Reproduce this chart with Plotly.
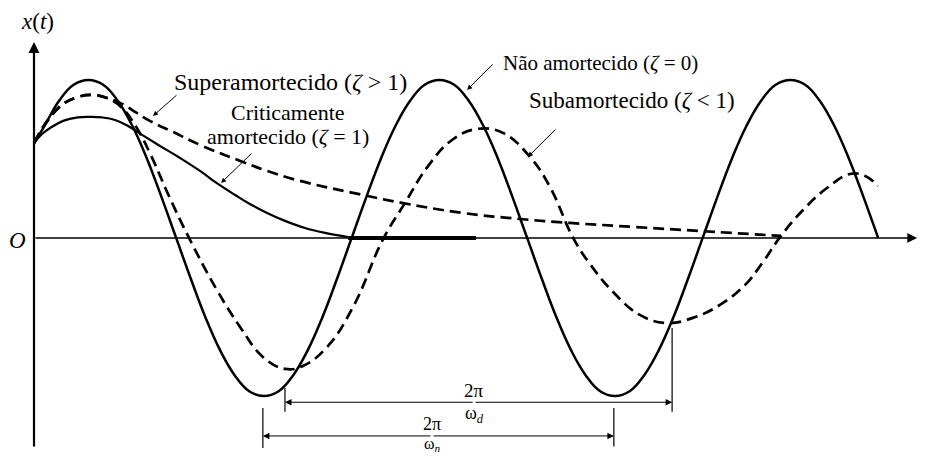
import plotly.graph_objects as go

# Free response of a single-degree-of-freedom system, same initial conditions.
# t: time (undamped period = 10 units), x: displacement (undamped amplitude = 1)

t_undamped = [0, 0.30, 0.72, 1.13, 1.55, 1.97, 2.38, 2.80, 3.22, 3.63, 4.05,
              4.47, 4.88, 5.30, 5.72, 6.13, 6.55, 6.97, 7.38, 7.80, 8.22,
              8.63, 9.05, 9.47, 9.88, 10.30, 10.72, 11.13, 11.55, 11.97, 12.38,
              12.80, 13.22, 13.63, 14.05, 14.47, 14.88, 15.30, 15.72, 16.13, 16.55,
              16.97, 17.38, 17.80, 18.22, 18.63, 19.05, 19.47, 19.88, 20.30, 20.72,
              21.13, 21.55, 21.97, 22.38, 22.80, 23.22, 23.63, 24.05]
x_undamped = [0.60, 0.71, 0.87, 0.97, 1.0, 0.97, 0.87, 0.71, 0.5, 0.26, 0.0,
              -0.26, -0.5, -0.71, -0.87, -0.97, -1.0, -0.97, -0.87, -0.71, -0.5,
              -0.26, 0.0, 0.26, 0.5, 0.71, 0.87, 0.97, 1.0, 0.97, 0.87,
              0.71, 0.5, 0.26, 0.0, -0.26, -0.5, -0.71, -0.87, -0.97, -1.0,
              -0.97, -0.87, -0.71, -0.5, -0.26, 0.0, 0.26, 0.5, 0.71, 0.87,
              0.97, 1.0, 0.97, 0.87, 0.71, 0.5, 0.26, 0.0]

t_under = [0, 0.40, 0.83, 1.25, 1.65, 2.08, 2.51, 2.93, 3.30, 3.87,
           4.44, 5.21, 5.87, 6.52, 7.15, 7.66, 8.35, 9.09, 9.94, 10.57,
           11.23, 11.91, 12.62, 13.36, 14.13, 14.70, 15.36, 15.84, 16.50, 17.26,
           18.03, 18.77, 19.54, 20.26, 20.77, 21.28, 21.91, 22.59, 23.25, 23.68, 24.05]
x_under = [0.60, 0.747, 0.848, 0.892, 0.905, 0.886, 0.823, 0.696, 0.538, 0.253,
           -0.01, -0.329, -0.563, -0.753, -0.829, -0.810, -0.690, -0.437, -0.01, 0.222,
           0.456, 0.620, 0.690, 0.665, 0.513, 0.323, 0.0, -0.165, -0.342, -0.487,
           -0.538, -0.506, -0.424, -0.297, -0.152, 0.013, 0.177, 0.316, 0.405, 0.392, 0.329]

t_over = [0, 0.40, 0.83, 1.25, 1.65, 2.08, 2.51, 2.93, 3.30, 3.96, 4.73,
          5.95, 6.64, 7.58, 9.37, 10.48, 12.22, 13.85, 15.27, 17.07, 18.97, 21.28]
x_over = [0.60, 0.747, 0.848, 0.892, 0.905, 0.886, 0.848, 0.791, 0.741, 0.671, 0.589,
          0.481, 0.424, 0.361, 0.272, 0.222, 0.158, 0.120, 0.095, 0.070, 0.044, 0.013]

t_crit = [0, 0.23, 0.46, 0.83, 1.25, 1.60, 1.94, 2.31, 2.68, 3.08, 3.59,
          4.16, 4.73, 5.24, 5.73, 6.15, 6.64, 7.15, 7.72, 8.29, 8.95]
x_crit = [0.60, 0.658, 0.696, 0.741, 0.763, 0.766, 0.763, 0.747, 0.709, 0.652, 0.582,
          0.506, 0.424, 0.342, 0.272, 0.215, 0.158, 0.108, 0.063, 0.032, 0.006]
t_crit_rest = [8.95, 12.59]
x_crit_rest = [0.0, 0.0]

# periods marked below the axis
wn_start, wn_period = 6.52, 10.0
wd_start, wd_period = 7.15, 11.03

SERIF = "Liberation Serif"
INK = "black"

fig = go.Figure()


def curve(t, x, dash=None, width=2.4, shape="spline"):
    fig.add_trace(go.Scatter(
        x=t, y=x, mode="lines", hoverinfo="skip", showlegend=False,
        line=dict(color=INK, width=width, dash=dash, shape=shape, smoothing=1.2),
    ))


curve(t_over, x_over, dash="11px,6px", width=2.7)
curve(t_crit, x_crit, width=2.2)
curve(t_crit_rest, x_crit_rest, width=4, shape="linear")
curve(t_under, x_under, dash="11px,6px", width=2.7)
curve(t_undamped, x_undamped, width=2.5)

ann = []


def arrow(head, tail, width=1.0, size=1.0, head_style=2):
    ann.append(dict(
        x=head[0], y=head[1], ax=tail[0], ay=tail[1],
        xref="x", yref="y", axref="x", ayref="y",
        text="", showarrow=True, arrowhead=head_style,
        arrowwidth=width, arrowsize=size, arrowcolor=INK,
    ))


def label(x, y, text, size=24, xanchor="left", yanchor="middle"):
    ann.append(dict(
        x=x, y=y, xref="x", yref="y", text=text, showarrow=False,
        xanchor=xanchor, yanchor=yanchor, borderpad=0,
        font=dict(family=SERIF, size=size, color=INK),
    ))


# coordinate axes
arrow((25.16, 0), (0, 0), width=1.4, size=1.4)
arrow((0, 1.24), (0, -1.33), width=2.2, size=1.0)

# pointers from the labels to the curves
arrow((3.39, 0.772), (4.10, 0.911))
arrow((5.33, 0.348), (6.24, 0.544))
arrow((12.34, 0.937), (13.11, 1.108))
arrow((14.07, 0.513), (14.90, 0.696))

# period dimension lines
shapes = []


def tick(t, y0, y1):
    shapes.append(dict(type="line", xref="x", yref="y", x0=t, x1=t, y0=y0, y1=y1,
                       line=dict(color=INK, width=1.2)))


wd_end = wd_start + wd_period
wn_end = wn_start + wn_period
wd_mid = 12.54
wn_mid = 11.34
y_wd, y_wn = -1.04, -1.253

tick(wd_start, -0.95, -1.10)
tick(wd_end, -0.57, -1.10)
tick(wn_start, -1.076, -1.33)
tick(wn_end, -1.076, -1.32)
arrow((wd_start, y_wd), (wd_mid, y_wd), width=1.0, size=1.3)
arrow((wd_end, y_wd), (wd_mid, y_wd), width=1.0, size=1.3)
arrow((wn_start, y_wn), (wn_mid, y_wn), width=1.0, size=1.3)
arrow((wn_end, y_wn), (wn_mid, y_wn), width=1.0, size=1.3)

# text
label(0.11, 1.373, "<i>x</i>(<i>t</i>)", size=23, xanchor="center")
label(-0.48, -0.013, "<i>O</i>", size=23, xanchor="center")
label(3.96, 0.99, "Superamortecido (<i>ζ</i> > 1)", size=24)
label(7.24, 0.797, "Criticamente", size=22, xanchor="center")
label(7.24, 0.639, "amortecido (<i>ζ</i> = 1)", size=22, xanchor="center")
label(13.33, 1.108, "Não amortecido (<i>ζ</i> = 0)", size=21)
label(14.07, 0.873, "Subamortecido (<i>ζ</i> < 1)", size=23)
label(wd_mid, y_wd, "2π", size=19, xanchor="center", yanchor="bottom")
label(wd_mid, y_wd, "ω<sub><i>d</i></sub>", size=18, xanchor="center", yanchor="top")
label(wn_mid, -1.244, "2π", size=18, xanchor="center", yanchor="bottom")
label(wn_mid, -1.376, "ω<sub><i>n</i></sub>", size=16, xanchor="center", yanchor="bottom")

fig.update_layout(
    width=928, height=456,
    margin=dict(l=0, r=0, t=0, b=0),
    paper_bgcolor="white", plot_bgcolor="white",
    xaxis=dict(range=[-0.969, 25.47], visible=False, fixedrange=True),
    yaxis=dict(range=[-1.380, 1.506], visible=False, fixedrange=True),
    annotations=ann, shapes=shapes,
    showlegend=False,
)

fig.write_html("out.html")
